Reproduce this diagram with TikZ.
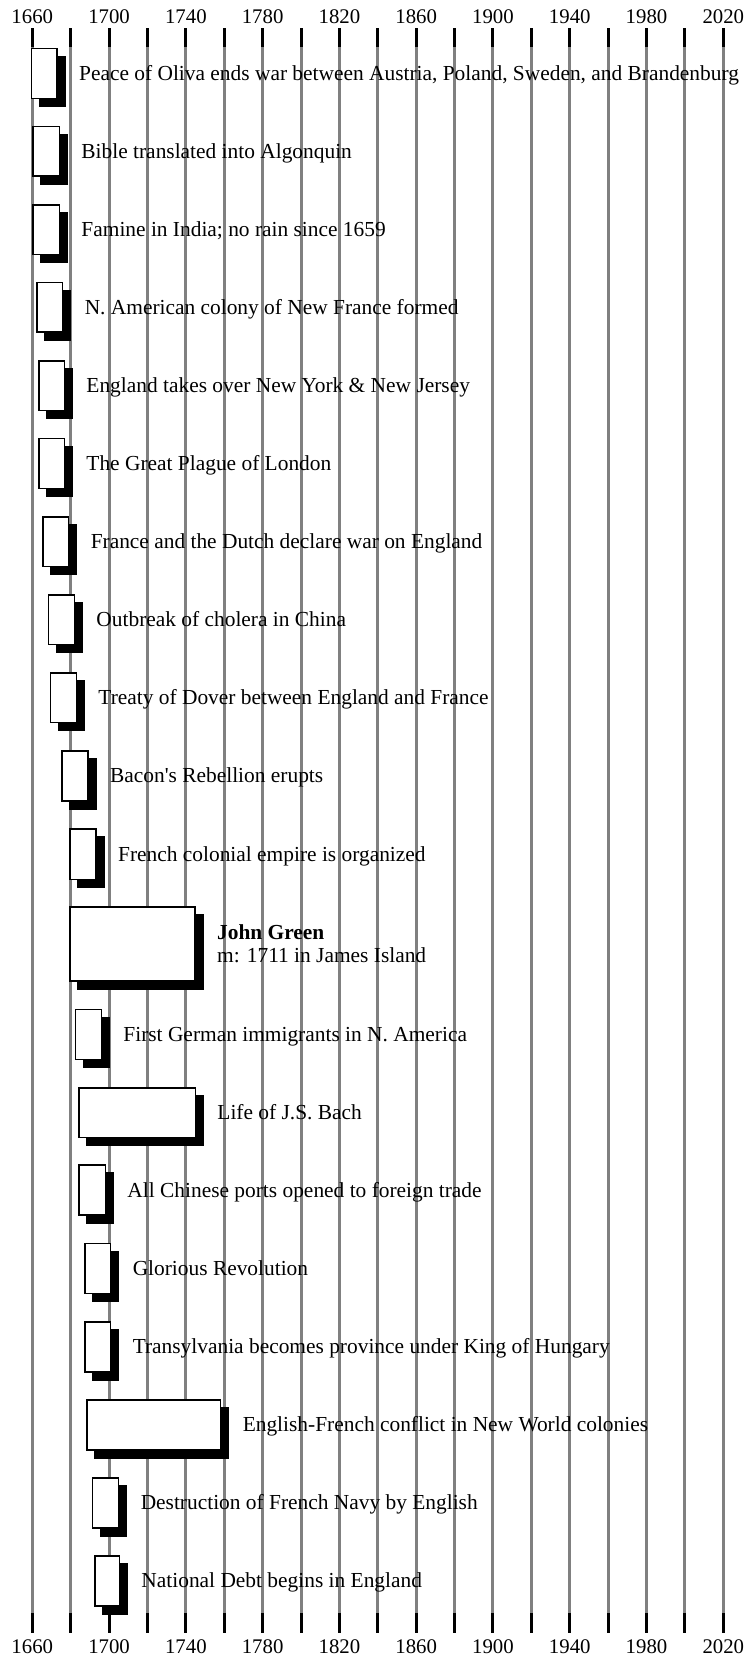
\documentclass[tikz,border=0pt]{standalone}
\usepackage{fontspec}
\setmainfont{Liberation Serif}
\usetikzlibrary{shadows}
\definecolor{gridgray}{RGB}{128,128,128}
\newcommand\evfont{\fontsize{21.4}{25}\selectfont}
\newcommand\yrfont{\fontsize{20.8}{24}\selectfont}
\newcommand\evbx[5]{%
  \node[evbox, minimum width=#4pt-#2pt-1.5pt, minimum height=#5pt-#3pt-1.5pt] (#1) at (#2+0.75,-#3-0.75) {};}
\newcommand\evrow[6]{%
  \evbx{#1}{#2}{#3}{#4}{#5}%
  \node[evtext] (#1t) at ([xshift=22pt,yshift=-7pt]#1.east) {#6};}
\begin{document}
\begin{tikzpicture}[x=1pt,y=1pt,
  evbox/.style={draw=black, line width=1.5pt, fill=white, inner sep=0pt, outer sep=0pt, anchor=north west,
    drop shadow={shadow xshift=8pt, shadow yshift=-8pt, fill=black, draw=black, opacity=1}},
  evtext/.style={inner sep=0pt, anchor=base west, font=\evfont},
  yearlab/.style={inner sep=0pt, anchor=base, font=\yrfont},
  gridline/.style={line width=3pt, draw=gridgray},
  tickline/.style={line width=3pt, draw=black}]
\useasboundingbox[fill=white] (0,0) rectangle (747,-1658);
\foreach \i in {0,...,18} {
  \pgfmathsetmacro\xx{32.3+\i*38.39}
  \draw[gridline] (\xx,-46.7) -- (\xx,-1613.3);
  \draw[tickline] (\xx,-28.3) -- (\xx,-46.7);
  \draw[tickline] (\xx,-1613.3) -- (\xx,-1633.3);
}
\foreach \i in {0,...,9} {
  \pgfmathsetmacro\xx{32.3+\i*76.78}
  \pgfmathtruncatemacro\yr{1660+40*\i}
  \node[yearlab] (top\yr) at (\xx,-23.3) {\yr};
  \node[yearlab] (bot\yr) at (\xx,-1653.3) {\yr};
}
\evrow{e1}{30.7}{47.7}{57.7}{99}{Peace of Oliva ends war between Austria, Poland, Sweden, and Brandenburg}
\evrow{e2}{32.3}{125.7}{60}{176.7}{Bible translated into Algonquin}
\evrow{e3}{32.3}{204}{60}{255}{Famine in India; no rain since 1659}
\evrow{e4}{36.3}{281.7}{63.3}{332.7}{N. American colony of New France formed}
\evrow{e5}{38.3}{360}{65}{411}{England takes over New York \& New Jersey}
\evrow{e6}{38.3}{437.7}{65}{489}{The Great Plague of London}
\evrow{e7}{42}{516}{69.3}{567.3}{France and the Dutch declare war on England}
\evrow{e8}{47.7}{594}{75}{645}{Outbreak of cholera in China}
\evrow{e9}{49.7}{672}{77}{723.3}{Treaty of Dover between England and France}
\evrow{e10}{61}{750}{88.7}{801.7}{Bacon\textquotesingle s Rebellion erupts}
\evrow{e11}{69}{828.3}{96.7}{880}{French colonial empire is organized}
\evbx{e12}{69}{906}{195.7}{981.7}
\node[evtext] (e12a) at ([xshift=22pt,yshift=4.5pt]e12.east) {\bfseries John Green};
\node[evtext] (e12b) at ([xshift=22pt,yshift=-18.9pt]e12.east) {m: 1711 in James Island};
\evrow{e13}{74.7}{1008.7}{102}{1060.3}{First German immigrants in N. America}
\evrow{e14}{78.3}{1087}{196}{1138.3}{Life of J.S. Bach}
\evrow{e15}{78.3}{1164.3}{106}{1215.7}{All Chinese ports opened to foreign trade}
\evrow{e16}{84.3}{1242.7}{111.3}{1294.3}{Glorious Revolution}
\evrow{e17}{84.3}{1321}{111.3}{1372.7}{Transylvania becomes province under King of Hungary}
\evrow{e18}{86}{1399}{221.3}{1450.7}{English-French conflict in New World colonies}
\evrow{e19}{91.7}{1477}{119.3}{1528.7}{Destruction of French Navy by English}
\evrow{e20}{94}{1555}{120}{1606.7}{National Debt begins in England}
\end{tikzpicture}
\end{document}
